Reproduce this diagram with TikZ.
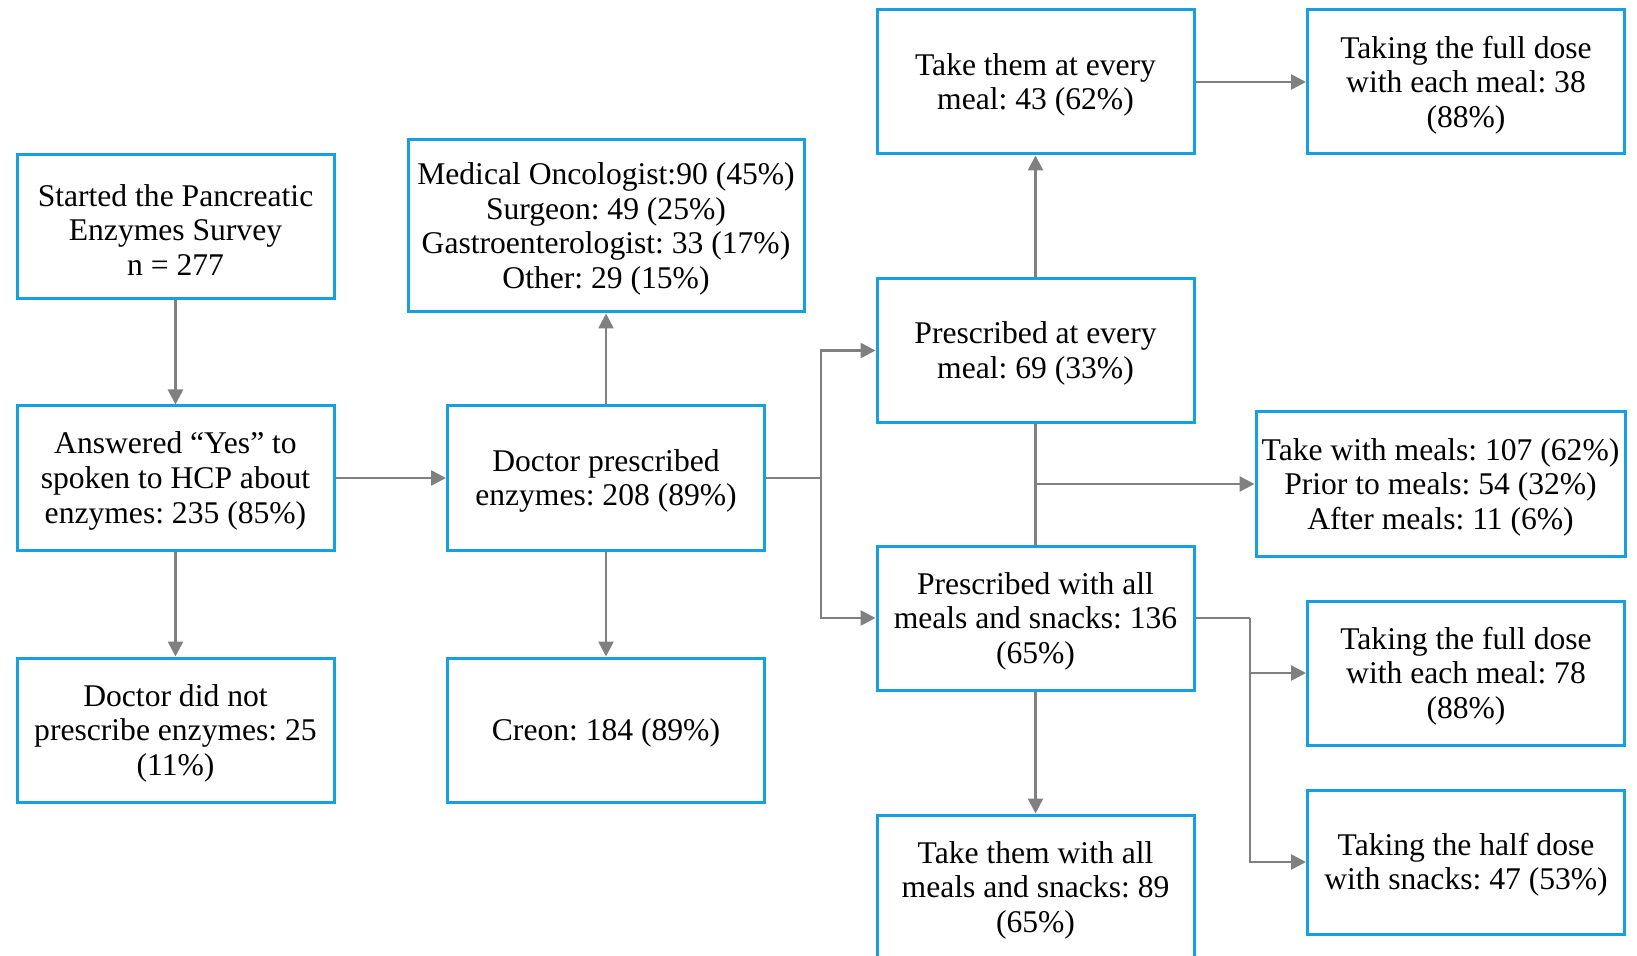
\documentclass[tikz,border=0pt]{standalone}
\usepackage{fontspec}
\setmainfont{Liberation Serif}
\usetikzlibrary{arrows.meta}
\definecolor{boxblue}{RGB}{20,160,225}
\definecolor{linegray}{RGB}{128,128,128}
\tikzset{
  box/.style={draw=boxblue, line width=1.5pt, minimum width=158.5pt, minimum height=72pt,
    text width=152pt, align=flush center, inner sep=0pt,
    font=\fontsize{15.8}{17.3}\selectfont\frenchspacing,
    execute at begin node={\noindent\rule{0pt}{14pt}}},
  conn/.style={draw=linegray, line width=1.3pt},
  arr/.style={conn, -{Triangle[length=7.5pt,width=7.5pt]}}
}
\begin{document}
\begin{tikzpicture}[x=0.5pt, y=-0.5pt]
    \useasboundingbox (0,0) rectangle (1637,956);

    \node[box] (start) at (175.5,227) {Started the Pancreatic\\Enzymes Survey\\n = 277};
    \node[box] (answered) at (175.5,478) {Answered ``Yes'' to\\spoken to HCP about\\enzymes: 235 (85\%)};
    \node[box] (notpresc) at (175.5,730) {Doctor did not\\prescribe enzymes: 25\\(11\%)};

    \node[box, minimum width=198pt, minimum height=86pt, text width=196pt] (specialty) at (606,226)
      {Medical Oncologist:90 (45\%)\\Surgeon: 49 (25\%)\\Gastroenterologist: 33 (17\%)\\Other: 29 (15\%)};
    \node[box] (presc) at (606,478) {Doctor prescribed\\enzymes: 208 (89\%)};
    \node[box] (creon) at (606,730) {Creon: 184 (89\%)};

    \node[box] (takemeal) at (1035.5,82) {Take them at every\\meal: 43 (62\%)};
    \node[box] (fullmeal) at (1466,82) {Taking the full dose\\with each meal: 38\\(88\%)};
    \node[box] (prescmeal) at (1035.5,350.5) {Prescribed at every\\meal: 69 (33\%)};
    \node[box, minimum width=184.5pt, text width=184pt] (timing) at (1440.5,484)
      {Take with meals: 107 (62\%)\\Prior to meals: 54 (32\%)\\After meals: 11 (6\%)};
    \node[box] (prescall) at (1035.5,618) {Prescribed with all\\meals and snacks: 136\\(65\%)};
    \node[box] (fullall) at (1466,673) {Taking the full dose\\with each meal: 78\\(88\%)};
    \node[box] (halfsnack) at (1466,862) {Taking the half dose\\with snacks: 47 (53\%)};
    \node[box] (takeall) at (1035.5,887) {Take them with all\\meals and snacks: 89\\(65\%)};

    \coordinate (split) at (821,478);
    \coordinate (drop) at (1250,618);

    \draw[arr] (start) -- (answered);
    \draw[arr] (answered) -- (notpresc);
    \draw[arr] (answered) -- (presc);
    \draw[arr] (presc) -- (specialty);
    \draw[arr] (presc) -- (creon);
    \draw[conn] (presc.east) -- (split);
    \draw[arr] (split) |- (prescmeal.west);
    \draw[arr] (split) |- (prescall.west);
    \draw[arr] (prescmeal) -- (takemeal);
    \draw[arr] (takemeal) -- (fullmeal);
    \draw[conn] (prescmeal) -- (prescall);
    \draw[arr] (prescmeal.south |- timing.west) -- (timing.west);
    \draw[arr] (prescall) -- (takeall);
    \draw[conn] (prescall.east) -- (drop);
    \draw[arr] (drop) |- (halfsnack.west);
    \draw[arr] (drop |- fullall.west) -- (fullall.west);
\end{tikzpicture}
\end{document}
